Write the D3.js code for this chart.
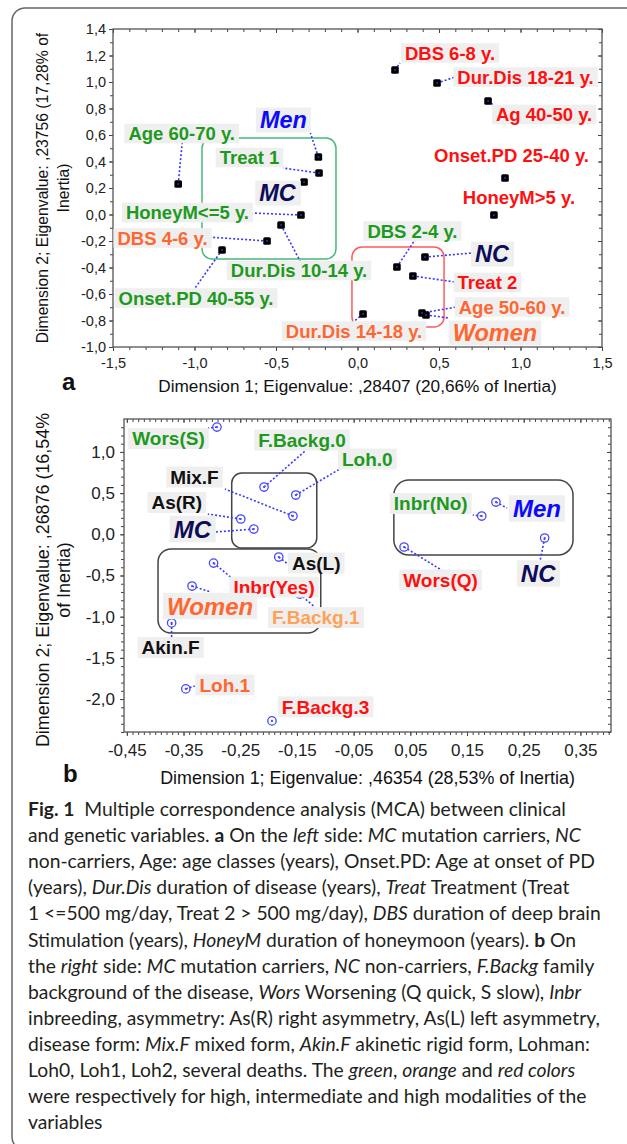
<!DOCTYPE html>
<html><head><meta charset="utf-8">
<script src="https://cdn.jsdelivr.net/npm/d3@7"></script>
<style>body{margin:0;background:#fff} svg{display:block}</style>
</head><body>
<script>
// ---------------- Panel a data ----------------
const aNames = ["Age 60-70 y.","Men","Treat 1","MC","HoneyM<=5 y.","DBS 4-6 y.","Dur.Dis 10-14 y.","Onset.PD 40-55 y.","Dur.Dis 14-18 y.","DBS 6-8 y.","Dur.Dis 18-21 y.","Ag 40-50 y.","Onset.PD 25-40 y.","HoneyM>5 y.","DBS 2-4 y.","NC","Treat 2","Age 50-60 y.","Women"];
const aDim1  = [-1.10,-0.24,-0.236,-0.328,-0.347,-0.555,-0.469,-0.831,0.034,0.230,0.488,0.801,0.905,0.837,0.242,0.414,0.340,0.396,0.420];
const aDim2  = [0.230,0.434,0.313,0.245,-0.004,-0.200,-0.079,-0.268,-0.751,1.091,0.992,0.857,0.275,-0.004,-0.396,-0.321,-0.464,-0.743,-0.758];
const aClass = ["green","men","green","carrier","green","orange","green","green","orange","red","red","red","red","red","green","carrier","red","orange","women"];
const aXTicks = [-1.5,-1.0,-0.5,0.0,0.5,1.0,1.5];
const aYTicks = [-1.0,-0.8,-0.6,-0.4,-0.2,0.0,0.2,0.4,0.6,0.8,1.0,1.2,1.4];
const aXTitle = "Dimension 1; Eigenvalue: ,28407 (20,66% of Inertia)";
const aYTitle = ["Dimension 2; Eigenvalue: ,23756 (17,28% of","Inertia)"];

// ---------------- Panel b data ----------------
const bNames = ["Wors(S)","F.Backg.0","Loh.0","Mix.F","As(R)","MC","As(L)","Inbr(Yes)","Women","F.Backg.1","Akin.F","Loh.1","F.Backg.3","Inbr(No)","Men","NC","Wors(Q)"];
const bDim1  = [-0.291,-0.208,-0.152,-0.157,-0.249,-0.226,-0.182,-0.297,-0.335,-0.145,-0.371,-0.346,-0.194,0.176,0.201,0.287,0.039];
const bDim2  = [1.302,0.574,0.477,0.222,0.186,0.064,-0.276,-0.349,-0.628,-0.725,-1.076,-1.877,-2.265,0.222,0.392,-0.045,-0.154];
const bClass = ["green","green","green","black","black","carrier","black","red","women","light","black","orange","red","green","men","carrier","red"];
const bXTicks = [-0.45,-0.35,-0.25,-0.15,-0.05,0.05,0.15,0.25,0.35];
const bYTicks = [-2.0,-1.5,-1.0,-0.5,0.0,0.5,1.0];
const bXTitle = "Dimension 1; Eigenvalue: ,46354 (28,53% of Inertia)";
const bYTitle = ["Dimension 2; Eigenvalue: ,26876 (16,54%","of Inertia)"];

// ---------------- Caption ----------------
const captionLines = [
 "**Fig. 1**  Multiple correspondence analysis (MCA) between clinical",
 "and genetic variables. **a** On the *left* side: *MC* mutation carriers, *NC*",
 "non-carriers, Age: age classes (years), Onset.PD: Age at onset of PD",
 "(years), *Dur.Dis* duration of disease (years), *Treat* Treatment (Treat",
 "1 <=500 mg/day, Treat 2 > 500 mg/day), *DBS* duration of deep brain",
 "Stimulation (years), *HoneyM* duration of honeymoon (years). **b** On",
 "the *right* side: *MC* mutation carriers, *NC* non-carriers, *F.Backg* family",
 "background of the disease, *Wors* Worsening (Q quick, S slow), *Inbr*",
 "inbreeding, asymmetry: As(R) right asymmetry, As(L) left asymmetry,",
 "disease form: *Mix.F* mixed form, *Akin.F* akinetic rigid form, Lohman:",
 "Loh0, Loh1, Loh2, several deaths. The *green*, *orange* and *red colors*",
 "were respectively for high, intermediate and high modalities of the",
 "variables"
];

// ---------------- Layout (pixel offsets of label centre & leader end from point) -------------
const aLayout = [
 [3.5,-50.5,4,-41,1],[-35,-37,-8,-24,1],[-69.5,-15.5,-36,-5,1],[-26.5,11,-2,3,1],
 [-113.5,-2.5,-49,-2,1],[-104.5,-3,-59,-4,1],[18,45.5,19,36,1],[-26,48,-27,38,1],
 [-9,17,-10,8,1],[55,-17,5,-7,1],[88.5,-6,18,-6,1],[56,13.5,5,4,1],
 [6.5,-22.5,null,null,0],[25,-17.5,null,null,0],[15.5,-36,18,-27,1],[67,-3,47,-4,1],
 [74.5,6.5,42,6,1],[90,-6,35,-6,1],[69,18,22,3,1]
];
const bLayout = [
 [-48.5,11.5,-9,1,1],[38,-47,41,-36,1],[71.5,-36,44,-26,1],[-98.5,-39,-68,-27,1],
 [-64,-16.5,-33,-5,1],[-61.5,0,-39,3,1],[37.5,6,9,7,1],[60.5,24,17,14,1],
 [18,20,19,6,1],[16,23.5,15,13,1],[-1,24.5,0,14,1],[39,-4,9,-3,1],
 [53.5,-14,null,null,1],[-51,-12.5,-9,-1,1],[41,6.5,11,6,1],[-6.5,35.5,-5,25,1],[36.5,33,39,24,1]
];
// group boxes in data units [x0,x1,y0,y1,radius,colour]
const aBoxes = [[-0.954,-0.132,0.577,-0.336,10,"#47b97a"],[-0.034,0.531,-0.245,-0.849,10,"#ff5a5a"]];
const bBoxes = [[-0.265,-0.115,0.744,-0.166,10,"#444"],[-0.395,-0.108,-0.178,-1.198,13,"#444"],[0.021,0.337,0.659,-0.251,15,"#444"]];

const styles = {
  green:{fill:"#1d9a1d"}, red:{fill:"#ff1010"}, orange:{fill:"#ff6630"}, light:{fill:"#ffa257"},
  black:{fill:"#111"}, men:{fill:"#0a0aff",italic:true}, carrier:{fill:"#0c0c58",italic:true},
  women:{fill:"#ff6630",italic:true}
};

const W=627,H=1144;
const svg=d3.select("body").append("svg").attr("width",W).attr("height",H);
svg.append("rect").attr("x",12).attr("y",8).attr("width",700).attr("height",1142).attr("rx",13)
  .attr("fill","none").attr("stroke","#666").attr("stroke-width",1.5);

const loc = d3.formatLocale({decimal:",",thousands:".",grouping:[3],currency:["",""],minus:"-"});
const FONT="'Liberation Sans', Arial, sans-serif";

function panel(cfg){
  const {x,y} = cfg;
  const g = svg.append("g").attr("font-family",FONT);
  const [x0,x1]=x.range(), [y0,y1]=y.range(); // y0 bottom
  const tk = (axis,vals,size,fmt,pad)=>axis.tickValues(vals).tickSize(size).tickPadding(pad||3).tickFormat(fmt||"");
  const clean = s=>{s.select(".domain").remove(); s.selectAll("line").attr("stroke","#444");};
  // minor ticks
  g.append("g").attr("transform",`translate(0,${y0})`).call(tk(d3.axisBottom(x),cfg.xMinor,3)).call(clean);
  g.append("g").attr("transform",`translate(0,${y1})`).call(tk(d3.axisTop(x),cfg.xMinor,-3)).call(clean);
  g.append("g").attr("transform",`translate(${x0},0)`).call(tk(d3.axisLeft(y),cfg.yMinor,3)).call(clean);
  g.append("g").attr("transform",`translate(${x1},0)`).call(tk(d3.axisRight(y),cfg.yMinor,-3)).call(clean);
  g.append("g").attr("transform",`translate(0,${y1})`).call(tk(d3.axisTop(x),cfg.xTicks,-4)).call(clean);
  g.append("g").attr("transform",`translate(${x1},0)`).call(tk(d3.axisRight(y),cfg.yTicks,-4)).call(clean);
  // major with labels
  const bx = g.append("g").attr("transform",`translate(0,${y0})`)
    .call(tk(d3.axisBottom(x),cfg.xTicks,4,cfg.xFmt,cfg.xPad)).call(clean);
  bx.selectAll("text").attr("font-size",cfg.tickFs).attr("fill","#222").attr("font-family",FONT);
  const ly = g.append("g").attr("transform",`translate(${x0},0)`)
    .call(tk(d3.axisLeft(y),cfg.yTicks,4,cfg.yFmt,cfg.yPad)).call(clean);
  ly.selectAll("text").attr("font-size",cfg.tickFs).attr("fill","#222").attr("font-family",FONT);
  // frame
  g.append("rect").attr("x",x0).attr("y",y1).attr("width",x1-x0).attr("height",y0-y1)
    .attr("fill","none").attr("stroke","#555").attr("stroke-width",1.3);
  // titles
  g.append("text").attr("x",(x0+x1)/2).attr("y",cfg.xTitleY).attr("text-anchor","middle")
    .attr("font-size",cfg.xTitleFs).attr("fill","#111").text(cfg.xTitle);
  cfg.yTitle.forEach((t,i)=>{
    g.append("text").attr("transform",`translate(${cfg.yTitleX[i]},${cfg.yTitleC}) rotate(-90)`)
      .attr("text-anchor","middle").attr("font-size",cfg.yTitleFs).attr("fill","#111").text(t);
  });
  g.append("text").attr("x",cfg.letter[0]).attr("y",cfg.letter[1]).attr("font-size",24)
    .attr("font-weight","bold").attr("fill","#111").text(cfg.letterText);
  // group boxes
  cfg.boxes.forEach(b=>{
    g.append("rect").attr("x",x(b[0])).attr("y",y(b[2])).attr("width",x(b[1])-x(b[0]))
      .attr("height",y(b[3])-y(b[2])).attr("rx",b[4]).attr("fill","none")
      .attr("stroke",b[5]).attr("stroke-width",1.5);
  });
  const idx = d3.range(cfg.names.length);
  // leader lines
  g.append("g").selectAll("line").data(idx.filter(i=>cfg.layout[i][2]!==null)).join("line")
    .attr("x1",i=>x(cfg.d1[i])).attr("y1",i=>y(cfg.d2[i]))
    .attr("x2",i=>x(cfg.d1[i])+cfg.layout[i][2]).attr("y2",i=>y(cfg.d2[i])+cfg.layout[i][3])
    .attr("stroke","#3838ff").attr("stroke-width",1.6).attr("stroke-dasharray","2,2");
  // points
  const pg = g.append("g");
  if(cfg.marker==="square"){
    pg.selectAll("rect.pt").data(idx).join("rect").attr("class","pt")
      .attr("x",i=>x(cfg.d1[i])-3.8).attr("y",i=>y(cfg.d2[i])-3.8).attr("width",7.6).attr("height",7.6)
      .attr("rx",1.5).attr("fill","#000");
    pg.selectAll("rect.c").data(idx).join("rect").attr("class","c")
      .attr("x",i=>x(cfg.d1[i])-1).attr("y",i=>y(cfg.d2[i])-1).attr("width",2).attr("height",2)
      .attr("fill","#1b2a8c");
  } else {
    pg.selectAll("circle.pt").data(idx).join("circle").attr("class","pt")
      .attr("cx",i=>x(cfg.d1[i])).attr("cy",i=>y(cfg.d2[i])).attr("r",4.2)
      .attr("fill","none").attr("stroke","#4848ff").attr("stroke-width",1.3);
    pg.selectAll("circle.c").data(idx).join("circle").attr("class","c")
      .attr("cx",i=>x(cfg.d1[i])).attr("cy",i=>y(cfg.d2[i])).attr("r",1.1).attr("fill","#4848ff");
  }
  // labels
  idx.forEach(i=>{
    const st = styles[cfg.cls[i]];
    const fs = st.italic ? cfg.italicFs : cfg.labelFs;
    const cx = x(cfg.d1[i])+cfg.layout[i][0], cy = y(cfg.d2[i])+cfg.layout[i][1];
    const lg = g.append("g");
    const t = lg.append("text").attr("x",cx).attr("y",cy+0.358*fs).attr("text-anchor","middle")
      .attr("font-size",fs).attr("font-weight","bold").attr("font-style",st.italic?"italic":null)
      .attr("fill",st.fill).text(cfg.names[i]);
    if(cfg.layout[i][4]){
      const bb = t.node().getBBox();
      const h = fs*cfg.boxH;
      lg.insert("rect","text").attr("x",bb.x-4).attr("width",bb.width+8)
        .attr("y",cy-h/2).attr("height",h).attr("fill","#efefef");
    }
  });
}

const f1 = loc.format(".1f"), f2 = loc.format(".2f");
panel({
  x:d3.scaleLinear().domain([-1.5,1.5]).range([113,602]),
  y:d3.scaleLinear().domain([-1.0,1.4]).range([347,29]),
  xTicks:aXTicks, yTicks:aYTicks,
  xMinor:d3.range(-15,16).map(i=>i/10), yMinor:d3.range(-10,15).map(i=>i/10),
  xFmt:f1, yFmt:f1, xPad:7, yPad:3, tickFs:14.5,
  xTitle:aXTitle, xTitleY:392, xTitleFs:17.2,
  yTitle:aYTitle, yTitleX:[48,69], yTitleC:188, yTitleFs:15.7,
  letter:[62,390], letterText:"a",
  boxes:aBoxes, names:aNames, d1:aDim1, d2:aDim2, cls:aClass, layout:aLayout,
  marker:"square", labelFs:18.5, italicFs:23.5, boxH:1.06
});
panel({
  x:d3.scaleLinear().domain([-0.455,0.404]).range([124,611]),
  y:d3.scaleLinear().domain([-2.4,1.4]).range([732,419]),
  xTicks:bXTicks, yTicks:bYTicks,
  xMinor:d3.range(-45,41).map(i=>i/100), yMinor:d3.range(-24,14).map(i=>i/10),
  xFmt:f2, yFmt:f1, xPad:8, yPad:5, tickFs:17,
  xTitle:bXTitle, xTitleY:784, xTitleFs:17.9,
  yTitle:bYTitle, yTitleX:[49,70], yTitleC:580, yTitleFs:17.9,
  letter:[63,782], letterText:"b",
  boxes:bBoxes, names:bNames, d1:bDim1, d2:bDim2, cls:bClass, layout:bLayout,
  marker:"circle", labelFs:19, italicFs:24, boxH:1.1
});

// caption
function parseSeg(s){
  return s.split(/(\*\*[^*]+\*\*|\*[^*]+\*)/).filter(p=>p.length).map(p=>
    p.startsWith("**")?{t:p.slice(2,-2),b:true}:p.startsWith("*")?{t:p.slice(1,-1),i:true}:{t:p});
}
const cap = svg.append("g").attr("font-family","Lato, 'Open Sans', sans-serif").attr("fill","#231f20");
function fill(sel,segs){segs.forEach(s=>sel.append("tspan").text(s.t)
  .attr("font-weight",s.b?"bold":null).attr("font-style",s.i?"italic":null));}
let cfs = 17.7;
const probe = cap.append("text").attr("font-size",cfs).style("white-space","pre");
fill(probe,parseSeg("and genetic variables. **a** On the "));
cfs = cfs*265/probe.node().getComputedTextLength();
probe.remove();
captionLines.forEach((ln,i)=>{
  const t = cap.append("text").attr("x",28).attr("y",816+i*26.1).attr("font-size",cfs).style("white-space","pre");
  fill(t,parseSeg(ln));
});
</script>
</body></html>
